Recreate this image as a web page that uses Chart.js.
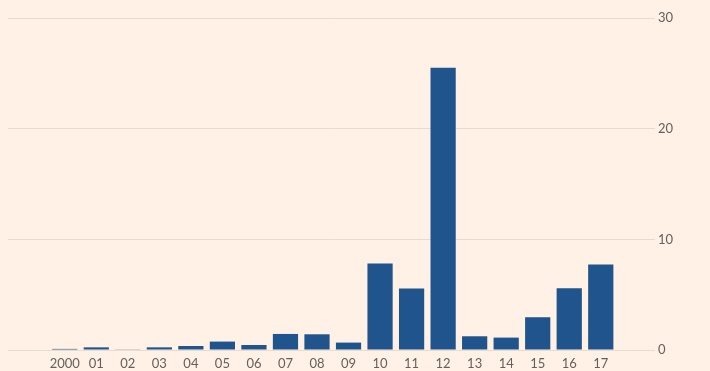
<!DOCTYPE html>
<html>
<head>
<meta charset="utf-8">
<script src="https://cdn.jsdelivr.net/npm/chart.js@4"></script>
<style>
  html, body { margin: 0; padding: 0; background: #fff1e5; }
  #wrap { width: 710px; height: 371px; position: relative; }
</style>
</head>
<body>
<div id="wrap"><canvas id="c"></canvas></div>
<script>
const categories = ["2000","01","02","03","04","05","06","07","08","09","10","11","12","13","14","15","16","17"];
const values = [0.1, 0.24, 0.03, 0.24, 0.36, 0.76, 0.45, 1.45, 1.42, 0.67, 7.82, 5.56, 25.5, 1.24, 1.12, 2.96, 5.58, 7.73];
const yTicks = [0, 10, 20, 30];

const points = values.map((v, i) => ({ x: i, y: v }));
const textColor = '#66605c';
const gridColor = '#e9dccf';

new Chart(document.getElementById('c'), {
  type: 'bar',
  data: {
    datasets: [{
      data: points,
      backgroundColor: '#1f548c',
      borderWidth: 0,
      barPercentage: 0.8,
      categoryPercentage: 1.0
    }]
  },
  options: {
    responsive: true,
    maintainAspectRatio: false,
    animation: false,
    layout: { padding: { left: 8, top: 18, bottom: 0, right: 0 } },
    plugins: { legend: { display: false }, tooltip: { enabled: false } },
    scales: {
      x: {
        type: 'linear',
        offset: false,
        min: -1.8,
        max: 18.72,
        grid: { display: false, drawTicks: false },
        border: { display: false },
        afterBuildTicks: (axis) => { axis.ticks = categories.map((_, i) => ({ value: i })); },
        afterFit: (axis) => { axis.height = 21; },
        ticks: {
          autoSkip: false,
          maxRotation: 0,
          padding: 6,
          color: textColor,
          font: { family: 'Lato', size: 13 },
          callback: (v) => categories[v]
        }
      },
      y: {
        position: 'right',
        min: 0,
        max: 30,
        afterBuildTicks: (axis) => { axis.ticks = yTicks.map(v => ({ value: v })); },
        afterFit: (axis) => { axis.width = 55; },
        grid: { color: gridColor, drawTicks: false, lineWidth: 1 },
        border: { display: false },
        ticks: {
          padding: 3,
          color: textColor,
          font: { family: 'Lato', size: 13 }
        }
      }
    }
  }
});
</script>
</body>
</html>
